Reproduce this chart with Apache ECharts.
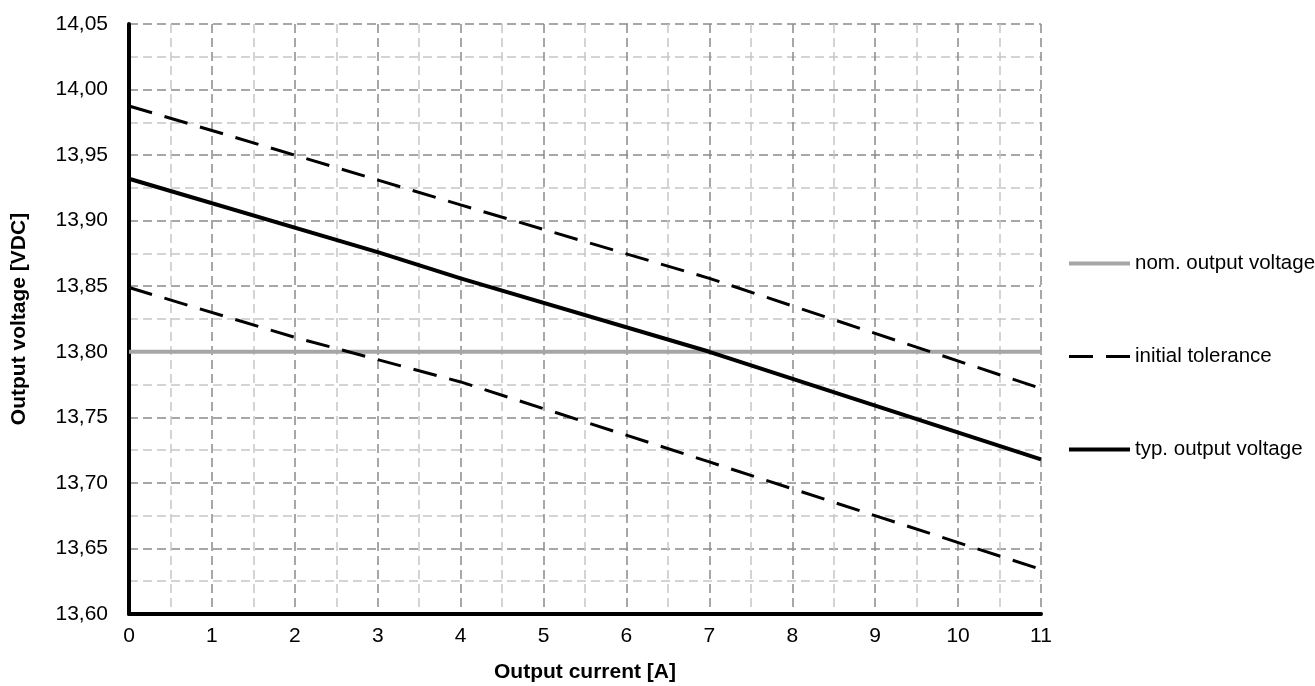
<!DOCTYPE html>
<html><head><meta charset="utf-8">
<script src="https://cdn.jsdelivr.net/npm/echarts@6/dist/echarts.min.js"></script>
<style>html,body{margin:0;padding:0;background:#fff}#c{width:1315px;height:686px}</style>
</head><body><div id="c"></div>
<script>
// Output current [A] at which each curve was read
const nominalX = [0, 11];
const nominal = [13.80, 13.80];
const tolUpperX = [0, 2, 4, 7, 11];
const tolUpper = [13.9875, 13.950, 13.912, 13.856, 13.772];
const tolLowerX = [0, 2, 4, 7, 11];
const tolLower = [13.849, 13.811, 13.777, 13.716, 13.634];
const typicalX = [0, 3, 4, 7, 11];
const typical = [13.932, 13.876, 13.856, 13.800, 13.718];
const xTicks = [0,1,2,3,4,5,6,7,8,9,10,11];
const yTicks = [13.60,13.65,13.70,13.75,13.80,13.85,13.90,13.95,14.00,14.05];

const pairs = (xs, ys) => xs.map((x, i) => [x, ys[i]]);
const font = '"Liberation Sans", Arial, sans-serif';
const chart = echarts.init(document.getElementById('c'), null, {renderer: 'canvas'});
const majorLine = {show: true, lineStyle: {color: '#8a8a8a', width: 1.5, type: [9, 5]}};
const minorLine = {show: true, lineStyle: {color: '#c6c6c6', width: 1.5, type: [9, 5]}};
const hidden = {opacity: 0};
chart.setOption({
  animation: false,
  grid: {left: 129, top: 24, right: 274, bottom: 72, containLabel: false, outerBoundsMode: 'none'},
  legend: {
    orient: 'vertical', left: 1067, top: 253, itemGap: 72, padding: 0,
    itemWidth: 61, itemHeight: 20,
    textStyle: {fontFamily: font, fontSize: 20.5, color: '#000'},
    data: [
      {name: 'nom. output voltage', itemStyle: hidden, lineStyle: {color: '#a6a6a6', width: 4, type: 'solid'}},
      {name: 'initial tolerance', itemStyle: hidden, lineStyle: {color: '#000', width: 3, type: [24, 13]}},
      {name: 'typ. output voltage', itemStyle: hidden, lineStyle: {color: '#000', width: 4, type: 'solid'}}
    ]
  },
  xAxis: {
    type: 'value', min: xTicks[0], max: xTicks[xTicks.length - 1], interval: 1,
    name: 'Output current [A]', nameLocation: 'middle', nameGap: 48,
    nameTextStyle: {fontFamily: font, fontSize: 21, fontWeight: 'bold', color: '#000'},
    axisLine: {show: true, onZero: false, lineStyle: {color: '#000', width: 4}},
    axisTick: {show: false},
    axisLabel: {fontFamily: font, fontSize: 21, color: '#000', margin: 12},
    splitLine: majorLine,
    minorTick: {show: false, splitNumber: 2},
    minorSplitLine: minorLine
  },
  yAxis: {
    type: 'value', min: yTicks[0], max: yTicks[yTicks.length - 1], interval: 0.05,
    name: 'Output voltage [VDC]', nameLocation: 'middle', nameGap: 99,
    nameTextStyle: {fontFamily: font, fontSize: 21, fontWeight: 'bold', color: '#000'},
    axisLine: {show: true, onZero: false, lineStyle: {color: '#000', width: 4}},
    axisTick: {show: false},
    axisLabel: {fontFamily: font, fontSize: 21, color: '#000', margin: 21,
      formatter: v => v.toFixed(2).replace('.', ',')},
    splitLine: majorLine,
    minorTick: {show: false, splitNumber: 2},
    minorSplitLine: minorLine
  },
  series: [
    {name: 'nom. output voltage', type: 'line', data: pairs(nominalX, nominal), symbol: 'none',
     lineStyle: {color: '#a6a6a6', width: 4}, itemStyle: {color: '#a6a6a6'}, z: 3},
    {name: 'initial tolerance', type: 'line', data: pairs(tolUpperX, tolUpper), symbol: 'none',
     lineStyle: {color: '#000', width: 3, type: [24, 13]}, itemStyle: {color: '#000'}, z: 4},
    {name: 'initial tolerance', type: 'line', data: pairs(tolLowerX, tolLower), symbol: 'none',
     lineStyle: {color: '#000', width: 3, type: [24, 13]}, itemStyle: {color: '#000'}, z: 4},
    {name: 'typ. output voltage', type: 'line', data: pairs(typicalX, typical), symbol: 'none',
     lineStyle: {color: '#000', width: 4}, itemStyle: {color: '#000'}, z: 5}
  ]
});
</script></body></html>
